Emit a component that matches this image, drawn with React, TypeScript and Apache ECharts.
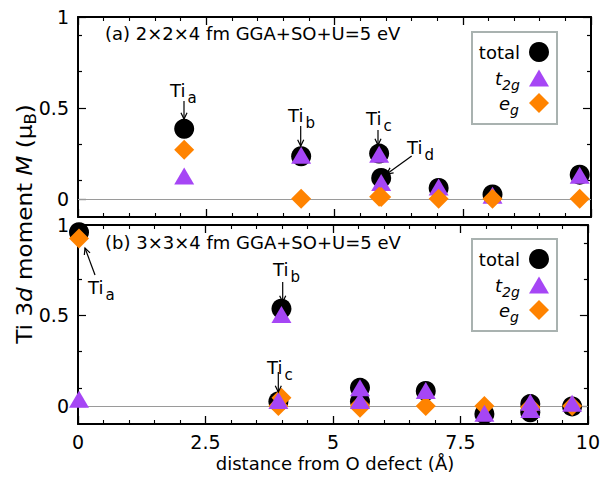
import React, { useEffect, useRef } from "react";
import * as echarts from "echarts";

// ---------- data ----------
// (a) 2x2x4 cell
const distA = [2.07, 4.35, 5.87, 5.91, 7.03, 8.08, 9.78];
const totalA = [0.385, 0.234, 0.249, 0.115, 0.06, 0.024, 0.133];
const t2gA = [0.125, 0.24, 0.245, 0.09, 0.065, 0.02, 0.13];
const egA = [0.27, 0.0, 0.012, 0.01, 0.0, 0.0, 0.0];

// (b) 3x3x4 cell
const distB = [0.02, 3.99, 3.93, 5.53, 5.53, 6.82, 7.97, 8.87, 8.87, 9.69];
const totalB = [0.96, 0.537, 0.025, 0.1, 0.025, 0.083, -0.045, 0.01, -0.035, -0.003];
const t2gB = [0.037, 0.505, 0.03, 0.1, 0.03, 0.085, -0.04, 0.02, -0.02, 0.015];
const egB = [0.925, 0.045, 0.0, 0.005, -0.01, 0.0, 0.0, -0.005, -0.01, 0.0];

const xTicks = [0, 2.5, 5, 7.5, 10];
const yMajorTicks = [0, 0.5, 1];
const yMinorTicks = [0.1, 0.3, 0.7, 0.9];

const titleA = "(a) 2×2×4 fm GGA+SO+U=5 eV";
const titleB = "(b) 3×3×4 fm GGA+SO+U=5 eV";
const xTitle = "distance from O defect (Å)";

const FONT = "DejaVu Sans";
const PURPLE = "#a646f5";
const ORANGE = "#ff8300";
const BLACK = "#000";

const zip = (xs: number[], ys: number[]) => xs.map((x, i) => [x, ys[i]]);

function xAxisFor(gridIndex: number, position: string, showLabel: boolean) {
  return {
    type: "value",
    gridIndex,
    position,
    min: xTicks[0],
    max: xTicks[xTicks.length - 1],
    interval: xTicks[1] - xTicks[0],
    axisLine: { show: true, onZero: false, lineStyle: { color: BLACK, width: 2 } },
    axisTick: { show: true, inside: true, length: 8, lineStyle: { color: BLACK, width: 1.3 } },
    minorTick: { show: true, splitNumber: 5, length: 4, lineStyle: { color: BLACK, width: 1.1 } },
    axisLabel: {
      show: showLabel,
      color: BLACK,
      fontFamily: FONT,
      fontSize: 19,
      margin: 8,
      formatter: (v: number) => String(v),
    },
    splitLine: { show: false },
    minorSplitLine: { show: false },
  };
}

function yAxisFor(gridIndex: number, position: string, major: boolean, showLabel: boolean) {
  return {
    type: "value",
    gridIndex,
    position,
    min: -0.1,
    max: 1,
    axisLine: { show: major, onZero: false, lineStyle: { color: BLACK, width: 2 } },
    axisTick: {
      show: true,
      inside: true,
      length: major ? 8 : 4,
      customValues: major ? yMajorTicks : yMinorTicks,
      lineStyle: { color: BLACK, width: 1.2 },
    },
    axisLabel: {
      show: showLabel,
      customValues: yMajorTicks,
      color: BLACK,
      fontFamily: FONT,
      fontSize: 19,
      margin: 9,
      formatter: (v: number) => String(v),
    },
    splitLine: { show: false },
  };
}

function zeroLine() {
  return {
    silent: true,
    z: 1,
    symbol: ["none", "none"],
    label: { show: false },
    lineStyle: { color: "#9a9a9a", width: 1.2, type: "solid" },
    data: [{ yAxis: 0 }],
  };
}

function scatter(name: string, xs: number[], ys: number[], kind: string, z: number, withZero = false) {
  const base: any = {
    name,
    type: "scatter",
    data: zip(xs, ys),
    z,
  };
  if (kind === "total") {
    base.symbol = "circle";
    base.symbolSize = 20;
    base.itemStyle = { color: BLACK, opacity: 1 };
  } else if (kind === "t2g") {
    base.symbol = "triangle";
    base.symbolSize = [20, 17];
    base.itemStyle = { color: PURPLE, opacity: 1 };
  } else {
    base.symbol = "diamond";
    base.symbolSize = [20, 20];
    base.itemStyle = { color: ORANGE, opacity: 1 };
  }
  base.emphasis = { disabled: true };
  if (withZero) base.markLine = zeroLine();
  return base;
}

// ---------- annotation helpers ----------
function arrow(x1: number, y1: number, x2: number, y2: number) {
  const ang = Math.atan2(y2 - y1, x2 - x1);
  const L = 7;
  const a = 0.45;
  const p1 = [x2 - L * Math.cos(ang - a), y2 - L * Math.sin(ang - a)];
  const p2 = [x2 - L * Math.cos(ang + a), y2 - L * Math.sin(ang + a)];
  return [
    { type: "line", z: 20, shape: { x1, y1, x2, y2 }, style: { stroke: BLACK, lineWidth: 1.2 } },
    { type: "polyline", z: 20, shape: { points: [p1, [x2, y2], p2] }, style: { stroke: BLACK, fill: null, lineWidth: 1.2 } },
  ];
}

function txt(x: number, y: number, text: string, opts: any = {}) {
  return {
    type: "text",
    z: 20,
    x,
    y,
    style: {
      text,
      fill: BLACK,
      fontFamily: FONT,
      fontSize: opts.fontSize || 18,
      fontStyle: opts.italic ? "italic" : "normal",
      align: opts.align || "left",
      textAlign: opts.align || "left",
      verticalAlign: "middle",
      textVerticalAlign: "middle",
    },
  };
}

function tiLabel(x: number, y: number, sub: string) {
  return [txt(x, y, "Ti"), txt(x + 17.5, y + 8, sub, { fontSize: 15 })];
}

function legend(boxTop: number) {
  const cx = 539;
  const r1 = boxTop + 20;
  const r2 = boxTop + 46;
  const r3 = boxTop + 71;
  return [
    {
      type: "rect",
      z: 15,
      shape: { x: 472, y: boxTop, width: 85, height: 92 },
      style: { fill: "#fff", stroke: "#a9b2b0", lineWidth: 2 },
    },
    txt(520, r1, "total", { align: "right" }),
    { type: "circle", z: 20, shape: { cx, cy: r1, r: 10 }, style: { fill: BLACK } },
    txt(502, r2, "t", { align: "right", italic: true }),
    txt(502, r2 + 7, "2g", { fontSize: 14, italic: true }),
    {
      type: "polygon",
      z: 20,
      shape: { points: [[cx, r2 - 8.5], [cx + 10, r2 + 8.5], [cx - 10, r2 + 8.5]] },
      style: { fill: PURPLE },
    },
    txt(510, r3, "e", { align: "right", italic: true }),
    txt(510, r3 + 7, "g", { fontSize: 14, italic: true }),
    {
      type: "polygon",
      z: 20,
      shape: { points: [[cx, r3 - 10], [cx + 10, r3], [cx, r3 + 10], [cx - 10, r3]] },
      style: { fill: ORANGE },
    },
  ];
}

const yTitle = {
  type: "text",
  z: 20,
  x: 25,
  y: 224,
  rotation: Math.PI / 2,
  scaleX: 1.1,
  style: {
    text: "{n|Ti 3}{i|d}{n| moment }{i|M}{n| (μ}{s|B}{n|)}",
    fill: BLACK,
    fontFamily: FONT,
    fontSize: 21,
    align: "center",
    textAlign: "center",
    verticalAlign: "middle",
    textVerticalAlign: "middle",
    rich: {
      n: { fontFamily: FONT, fontSize: 21, lineHeight: 26, fill: BLACK, color: BLACK },
      i: { fontFamily: FONT, fontSize: 21, lineHeight: 26, fontStyle: "italic", fill: BLACK, color: BLACK },
      s: { fontFamily: FONT, fontSize: 15, lineHeight: 13, verticalAlign: "bottom", fill: BLACK, color: BLACK },
    },
  },
};

const option: any = {
  animation: false,
  backgroundColor: "#fff",
  textStyle: { fontFamily: FONT },
  grid: [
    { left: 78, right: 12, top: 17, height: 200 },
    { left: 78, right: 12, top: 225, height: 199 },
  ],
  xAxis: [
    xAxisFor(0, "bottom", false),
    xAxisFor(0, "top", false),
    xAxisFor(1, "bottom", true),
    xAxisFor(1, "top", false),
  ],
  yAxis: [
    yAxisFor(0, "left", true, true),
    yAxisFor(0, "right", true, false),
    yAxisFor(0, "left", false, false),
    yAxisFor(0, "right", false, false),
    yAxisFor(1, "left", true, true),
    yAxisFor(1, "right", true, false),
    yAxisFor(1, "left", false, false),
    yAxisFor(1, "right", false, false),
  ],
  series: [
    // panel (a): e_g drawn above t2g
    { ...scatter("total", distA, totalA, "total", 2, true), xAxisIndex: 0, yAxisIndex: 0 },
    { ...scatter("t2g", distA, t2gA, "t2g", 3), xAxisIndex: 0, yAxisIndex: 0 },
    { ...scatter("eg", distA, egA, "eg", 4), xAxisIndex: 0, yAxisIndex: 0 },
    // panel (b): t2g drawn above e_g
    { ...scatter("total", distB, totalB, "total", 2, true), xAxisIndex: 2, yAxisIndex: 4 },
    { ...scatter("eg", distB, egB, "eg", 3), xAxisIndex: 2, yAxisIndex: 4 },
    { ...scatter("t2g", distB, t2gB, "t2g", 4), xAxisIndex: 2, yAxisIndex: 4 },
  ],
  graphic: [
    txt(105, 33, titleA),
    txt(105, 242, titleB),
    {
      type: "text",
      z: 20,
      x: 335,
      y: 463,
      style: {
        text: xTitle,
        fill: BLACK,
        fontFamily: FONT,
        fontSize: 18,
        align: "center",
        textAlign: "center",
        verticalAlign: "middle",
        textVerticalAlign: "middle",
      },
    },
    yTitle,
    ...legend(32),
    ...legend(239),
    // panel (a) annotations
    ...tiLabel(170, 90, "a"),
    ...arrow(184, 101, 184, 119),
    ...tiLabel(288, 115, "b"),
    ...arrow(300.7, 126, 300.7, 146),
    ...tiLabel(366, 118, "c"),
    ...arrow(378, 130, 378, 145),
    ...tiLabel(407, 147, "d"),
    ...arrow(411.7, 156, 386.7, 174),
    // panel (b) annotations
    ...tiLabel(88, 287, "a"),
    ...arrow(95, 275, 85, 248),
    ...tiLabel(273, 269, "b"),
    ...arrow(282.7, 282, 282.7, 302),
    ...tiLabel(267, 367, "c"),
    ...arrow(278.3, 372, 278.3, 392),
  ],
};

export default function App() {
  const ref = useRef<HTMLDivElement>(null);
  useEffect(() => {
    if (!ref.current) return;
    const chart = echarts.init(ref.current, null, { renderer: "svg" });
    chart.setOption(option);
    return () => chart.dispose();
  }, []);
  return (
    <div
      ref={ref}
      style={{ position: "fixed", left: 0, top: 0, width: 603, height: 480, background: "#fff" }}
    />
  );
}
